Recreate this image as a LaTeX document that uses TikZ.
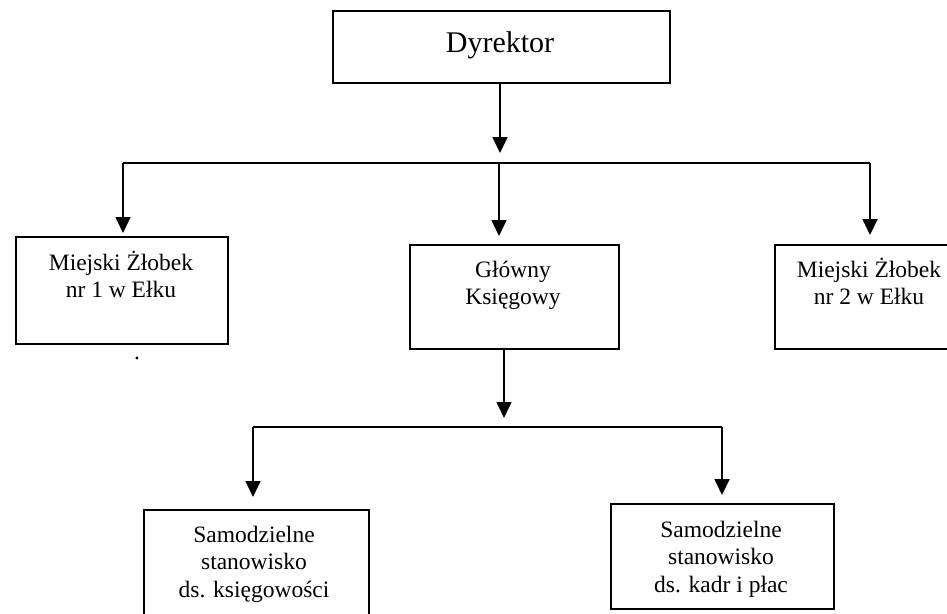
\documentclass[tikz,border=0pt]{standalone}
\usepackage{fontspec}
\setmainfont{Liberation Serif}
\usetikzlibrary{arrows.meta}
\tikzset{
  box/.style={draw=black, line width=2pt, rectangle, inner sep=0pt, anchor=north west, fill=white},
  txt/.style={inner sep=0pt, align=center, anchor=north, font=\fontsize{23.5}{27.5}\selectfont},
  ln/.style={draw=black, line width=1.7pt},
  arr/.style={ln, -{Triangle[length=16pt,width=15pt]}}
}
\begin{document}
\begin{tikzpicture}[x=1pt,y=-1pt]
\clip (0,0) rectangle (947,613);
\fill[white] (0,0) rectangle (947,613);
% boxes
\node[box, minimum width=337pt, minimum height=72pt] (dyr) at (332,10) {};
\node[box, minimum width=212pt, minimum height=107pt] (z1) at (15,236) {};
\node[box, minimum width=209pt, minimum height=104pt] (gk) at (409,244) {};
\node[box, minimum width=200pt, minimum height=104pt] (z2) at (774,244) {};
\node[box, minimum width=225pt, minimum height=120pt] (ks) at (143,509) {};
\node[box, minimum width=223pt, minimum height=105pt] (kp) at (610,503) {};
% texts
\node[inner sep=0pt, anchor=base, font=\fontsize{30}{34}\selectfont] (dyrt) at (500,52) {Dyrektor};
\node[txt] (z1t) at (121,248) {\rule{0pt}{22pt}Miejski Żłobek\\nr 1 w Ełku};
\node[txt] (gkt) at (513,255) {\rule{0pt}{22pt}Główny\\Księgowy};
\node[txt] (z2t) at (869,255) {\rule{0pt}{22pt}Miejski Żłobek\\nr 2 w Ełku};
\node[txt] (kst) at (254,520) {\rule{0pt}{22pt}Samodzielne\\stanowisko\\ds. księgowości};
\node[txt] (kpt) at (721,515) {\rule{0pt}{22pt}Samodzielne\\stanowisko\\ds. kadr i płac};
\node[inner sep=0pt, anchor=base, font=\fontsize{23.5}{27.5}\selectfont] (dot) at (137,359) {.};
% connector coordinates
\coordinate (d1) at (500,153);
\coordinate (b1L) at (123,163);
\coordinate (b1M) at (499,163);
\coordinate (b1R) at (870,163);
\coordinate (g1) at (504,418);
\coordinate (b2L) at (253,427);
\coordinate (b2R) at (722,427);
% connectors
\draw[arr] (dyr.south -| d1) -- (d1);
\draw[ln] (b1L) -- (b1R);
\draw[arr, shorten >=3pt] (b1L) -- (b1L |- z1.north);
\draw[arr, shorten >=8pt] (b1M) -- (b1M |- gk.north);
\draw[arr, shorten >=9pt] (b1R) -- (b1R |- z2.north);
\draw[arr] (gk.south -| g1) -- (g1);
\draw[ln] (b2L) -- (b2R);
\draw[arr, shorten >=12pt] (b2L) -- (b2L |- ks.north);
\draw[arr, shorten >=8pt] (b2R) -- (b2R |- kp.north);
\end{tikzpicture}
\end{document}
